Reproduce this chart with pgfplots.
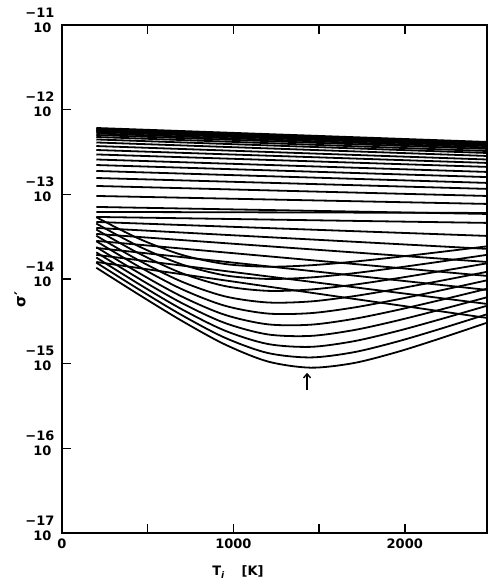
\documentclass[border=0pt]{standalone}
\usepackage{fontspec}
\setmainfont{DejaVu Sans}
\usepackage{pgfplots}
\pgfplotsset{compat=1.18}
\usetikzlibrary{arrows.meta}

\begin{document}
\begin{tikzpicture}
\begin{axis}[
  width=425pt, height=508pt, scale only axis,
  xmin=0, xmax=2480,
  ymode=log, ymin=1e-17, ymax=1e-11,
  xtick={0,500,1000,1500,2000},
  xticklabels={0,,1000,,2000},
  ytick={1e-17,1e-16,1e-15,1e-14,1e-13,1e-12,1e-11},
  yticklabels={{−17\\10\rule{3pt}{0pt}},{−16\\10\rule{3pt}{0pt}},{−15\\10\rule{3pt}{0pt}},
               {−14\\10\rule{3pt}{0pt}},{−13\\10\rule{3pt}{0pt}},{−12\\10\rule{3pt}{0pt}},
               {−11\\10\rule{3pt}{0pt}}},
  yminorticks=false,
  tick align=inside,
  xtick pos=both, ytick pos=left,
  major tick length=9pt,
  tick style={line width=1.6pt, black},
  axis line style={line width=2pt},
  ticklabel style={font=\bfseries\fontsize{13}{15}\selectfont},
  yticklabel style={align=right, xshift=-4pt, yshift=5pt},
  xticklabel style={yshift=-2pt},
  xlabel={T\textsubscript{\itshape i}\hspace{1.3em}[K]},
  xlabel style={font=\bfseries\fontsize{13}{14}\selectfont,
                at={(axis description cs:0.414,-0.077)}, anchor=center},
  ylabel={σ′},
  ylabel style={font=\bfseries\fontsize{15}{15}\selectfont,
                at={(axis description cs:-0.099,0.459)}, anchor=center},
  cycle list={{black, solid}},
  every axis plot/.append style={line width=1.8pt, no markers, line join=round},
]

% upper family: nearly flat, converging bundle
\addplot coordinates {(200,6.08e-13) (2480,4.16e-13)};
\addplot coordinates {(200,5.92e-13) (2480,4.05e-13)};
\addplot coordinates {(200,5.75e-13) (2480,3.94e-13)};
\addplot coordinates {(200,5.60e-13) (2480,3.83e-13)};
\addplot coordinates {(200,5.45e-13) (2480,3.72e-13)};
\addplot coordinates {(200,5.24e-13) (2480,3.58e-13)};
\addplot coordinates {(200,5.02e-13) (2480,3.44e-13)};
\addplot coordinates {(200,4.76e-13) (2480,3.25e-13)};
\addplot coordinates {(200,4.45e-13) (2480,3.08e-13)};
\addplot coordinates {(200,4.10e-13) (2480,2.84e-13)};
\addplot coordinates {(200,3.72e-13) (2480,2.58e-13)};
\addplot coordinates {(200,3.34e-13) (2480,2.35e-13)};
\addplot coordinates {(200,2.96e-13) (2480,2.11e-13)};
\addplot coordinates {(200,2.58e-13) (2480,1.84e-13)};
\addplot coordinates {(200,2.22e-13) (2480,1.60e-13)};
\addplot coordinates {(200,1.89e-13) (2480,1.365e-13)};
\addplot coordinates {(200,1.56e-13) (2480,1.16e-13)};
\addplot coordinates {(200,1.256e-13) (2480,9.57e-14)};
\addplot coordinates {(200,9.57e-14) (2480,7.71e-14)};
\addplot coordinates {(200,7.10e-14) (2480,5.87e-14)};

% lower family: gently sloping lines
\addplot coordinates {(200,6.20e-14) (2480,6.03e-14)};
\addplot coordinates {(200,5.41e-14) (2480,4.60e-14)};
\addplot coordinates {(200,4.72e-14) (2480,3.23e-14)};
\addplot coordinates {(200,4.01e-14) (2480,2.27e-14)};
\addplot coordinates {(200,3.41e-14) (2480,1.59e-14)};
\addplot coordinates {(200,2.82e-14) (2480,1.088e-14)};
\addplot coordinates {(200,2.33e-14) (2480,7.44e-15)};
\addplot coordinates {(200,1.93e-14) (2480,5.08e-15)};
\addplot coordinates {(200,1.59e-14) (2480,3.47e-15)};

% lower family: curves falling to a minimum and rising again
\addplot+[smooth] coordinates {(200,13.597e-15) (450,6.512e-15) (700,3.199e-15) (950,1.690e-15) (1200,1.063e-15) (1450,0.8974e-15) (1700,1.0147e-15) (1950,1.3631e-15) (2200,1.9661e-15) (2480,3.0487e-15)};
\addplot+[smooth] coordinates {(200,15.616e-15) (450,7.512e-15) (700,3.734e-15) (950,2.0276e-15) (1200,1.3388e-15) (1450,1.1850e-15) (1700,1.3625e-15) (1950,1.8103e-15) (2200,2.5512e-15) (2480,3.8368e-15)};
\addplot+[smooth] coordinates {(200,17.946e-15) (450,8.685e-15) (700,4.383e-15) (950,2.460e-15) (1200,1.7103e-15) (1450,1.5807e-15) (1700,1.8375e-15) (1950,2.4086e-15) (2200,3.3137e-15) (2480,4.8323e-15)};
\addplot+[smooth] coordinates {(200,20.668e-15) (450,10.083e-15) (700,5.188e-15) (950,3.027e-15) (1200,2.218e-15) (1450,2.128e-15) (1700,2.486e-15) (1950,3.208e-15) (2200,4.305e-15) (2480,6.087e-15)};
\addplot+[smooth] coordinates {(200,23.843e-15) (450,11.758e-15) (700,6.198e-15) (950,3.779e-15) (1200,2.918e-15) (1450,2.886e-15) (1700,3.374e-15) (1950,4.274e-15) (2200,5.593e-15) (2480,7.665e-15)};
\addplot+[smooth] coordinates {(200,27.957e-15) (450,13.974e-15) (700,7.578e-15) (950,4.837e-15) (1200,3.911e-15) (1450,3.953e-15) (1700,4.594e-15) (1950,5.703e-15) (2200,7.270e-15) (2480,9.656e-15)};
\addplot+[smooth] coordinates {(200,32.465e-15) (450,16.528e-15) (700,9.290e-15) (950,6.245e-15) (1200,5.284e-15) (1450,5.432e-15) (1700,6.261e-15) (1950,7.609e-15) (2200,9.450e-15) (2480,12.164e-15)};
\addplot+[smooth] coordinates {(200,38.413e-15) (450,20.000e-15) (700,11.695e-15) (950,8.264e-15) (1200,7.250e-15) (1450,7.516e-15) (1700,8.553e-15) (1950,10.159e-15) (2200,12.284e-15) (2480,15.319e-15)};
\addplot+[smooth] coordinates {(200,45.205e-15) (450,24.239e-15) (700,14.857e-15) (950,11.056e-15) (1200,10.017e-15) (1450,10.428e-15) (1700,11.694e-15) (1950,13.567e-15) (2200,15.968e-15) (2480,19.295e-15)};
\addplot+[smooth] coordinates {(200,53.730e-15) (450,29.873e-15) (700,19.274e-15) (950,15.055e-15) (1200,13.977e-15) (1450,14.528e-15) (1700,16.014e-15) (1950,18.131e-15) (2200,20.767e-15) (2480,24.311e-15)};

% arrow marking the lowest minimum
\draw[line width=1.4pt, -{Straight Barb[length=4pt,width=7pt]}]
  (axis cs:1430,4.9e-16) -- (axis cs:1430,7.8e-16);
\end{axis}
\path (current axis.south west) ++(-62pt,-50pt) coordinate (bbl);
\path (current axis.north east) ++(2pt,25pt) coordinate (btr);
\pgfresetboundingbox
\path (bbl) rectangle (btr);
\end{tikzpicture}
\end{document}
